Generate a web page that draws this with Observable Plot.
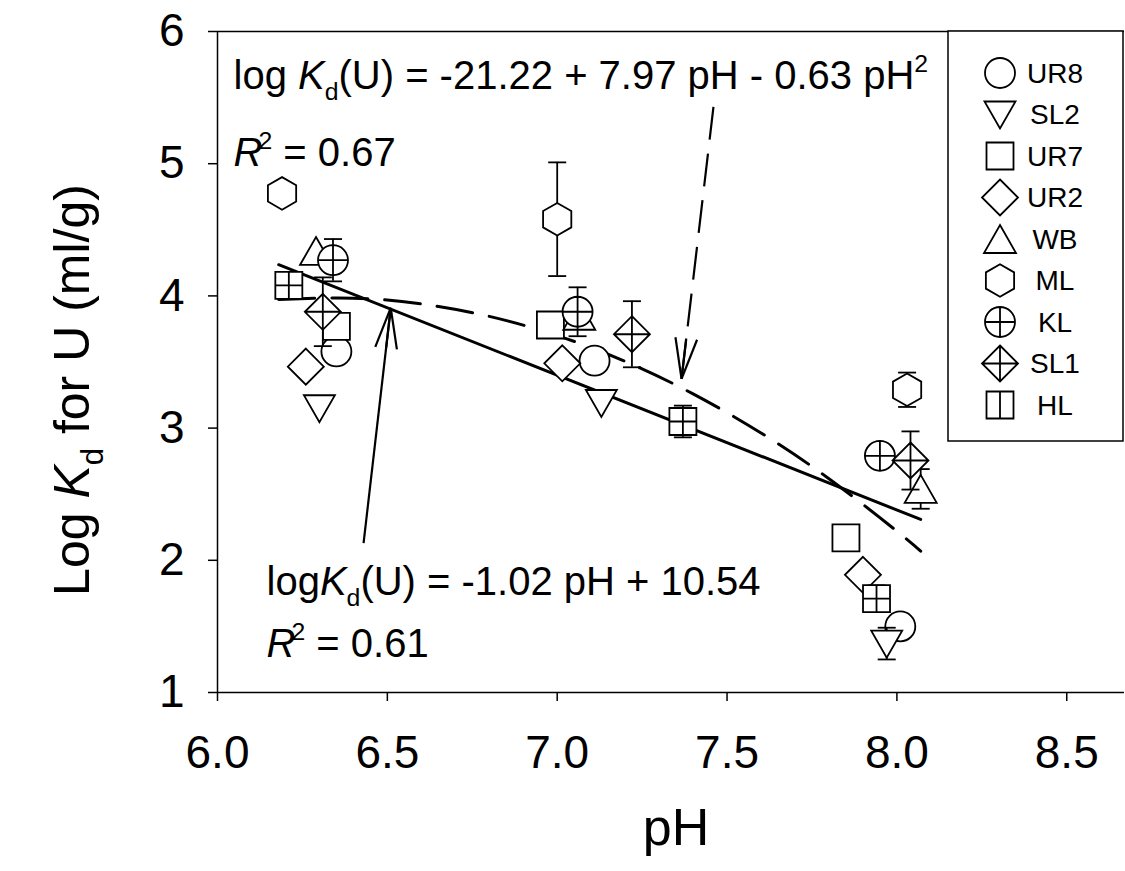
<!DOCTYPE html>
<html><head><meta charset="utf-8">
<script src="https://cdn.jsdelivr.net/npm/d3@7"></script>
<script src="https://cdn.jsdelivr.net/npm/@observablehq/plot@0.6"></script>
<style>
html,body{margin:0;padding:0;background:#fff;overflow:hidden;}
#chart{position:relative;width:1125px;height:871px;}
text{white-space:pre;}
</style></head><body><div id="chart"></div>
<script>
// ---------- data ----------
const sites = ["UR8","SL2","UR7","UR2","WB","ML","KL","SL1","HL"];
const siteSymbols = ["circle","triangleDown","square","diamond","triangleUp","hexagon","circlePlus","diamondPlus","squareGrid"];
const legendSymbols = ["circle","triangleDown","square","diamond","triangleUp","hexagon","circlePlus","diamondPlus","squareSplit"];
const sitePH = [
  [6.35, 7.11, 8.01],
  [6.30, 7.13, 7.97],
  [6.35, 6.98, 7.85],
  [6.26, 7.015, 7.90],
  [6.29, 7.065, 8.07],
  [6.19, 7.00, 8.03],
  [6.34, 7.06, 7.95],
  [6.31, 7.22, 8.04],
  [6.21, 7.37, 7.94]
];
const siteLogKd = [
  [3.58, 3.51, 1.50],
  [3.15, 3.19, 1.37],
  [3.77, 3.78, 2.17],
  [3.465, 3.49, 1.89],
  [4.34, 3.85, 2.54],
  [4.775, 4.58, 3.29],
  [4.27, 3.88, 2.79],
  [3.88, 3.71, 2.755],
  [4.08, 3.05, 1.71]
];
const siteErr = [
  [0, 0, 0],
  [0, 0, 0.12],
  [0, 0, 0],
  [0, 0, 0],
  [0, 0, 0.15],
  [0, 0.43, 0.13],
  [0.16, 0.185, 0],
  [0.26, 0.25, 0.22],
  [0, 0.12, 0.1]
];
// linear fit line (read end points)
const linPH = [6.18, 8.07];
const linLogKd = [4.236, 2.309];
// quadratic fit curve (read points)
const quadPH = [6.18, 6.4, 6.6, 6.8, 7.0, 7.2, 7.4, 7.6, 7.8, 8.0, 8.07];
const quadLogKd = [3.973, 3.983, 3.939, 3.845, 3.70, 3.505, 3.259, 2.963, 2.617, 2.22, 2.069];
// annotation arrows: tail -> tip
const arrowTail = [[6.43, 2.13], [7.46, 5.43]];
const arrowTip = [[6.51, 3.91], [7.366, 3.373]];
const arrowDashed = [false, true];
const xTicks = [6.0, 6.5, 7.0, 7.5, 8.0, 8.5];
const yTicks = [1, 2, 3, 4, 5, 6];
const xLabel = "pH";
const yLabel = "Log Kd for U (ml/g)";
const eqQuad = "log Kd(U) = -21.22 + 7.97 pH - 0.63 pH2";
const r2Quad = "R2 = 0.67";
const eqLin = "logKd(U) = -1.02 pH + 10.54";
const r2Lin = "R2 = 0.61";

// ---------- rows ----------
const rows = [];
sites.forEach((s, i) => sitePH[i].forEach((p, j) => rows.push({site: s, pH: p, v: siteLogKd[i][j], err: siteErr[i][j]})));
const linRows = linPH.map((p, i) => ({pH: p, v: linLogKd[i]}));
const quadRows = quadPH.map((p, i) => ({pH: p, v: quadLogKd[i]}));

// ---------- symbols ----------
function mk(f) { return {draw(c) { f(c); }}; }
function circ(c, r) { c.moveTo(r, 0); c.arc(0, 0, r, 0, 2 * Math.PI); }
function sq(c, h) { c.moveTo(-h, -h); c.lineTo(h, -h); c.lineTo(h, h); c.lineTo(-h, h); c.closePath(); }
function dia(c, h) { c.moveTo(0, -h); c.lineTo(h, 0); c.lineTo(0, h); c.lineTo(-h, 0); c.closePath(); }
function plus(c, h) { c.moveTo(-h, 0); c.lineTo(h, 0); c.moveTo(0, -h); c.lineTo(0, h); }
const SYM = {
  circle: mk(c => circ(c, 15)),
  triangleDown: mk(c => { c.moveTo(-15.5, -13); c.lineTo(15.5, -13); c.lineTo(0, 14); c.closePath(); }),
  triangleUp: mk(c => { c.moveTo(0, -14); c.lineTo(16, 14); c.lineTo(-16, 14); c.closePath(); }),
  square: mk(c => sq(c, 13.5)),
  diamond: mk(c => dia(c, 18)),
  hexagon: mk(c => { const R = 16.3; for (let k = 0; k < 6; k++) { const a = (-90 + 60 * k) * Math.PI / 180; k ? c.lineTo(R * Math.cos(a), R * Math.sin(a)) : c.moveTo(R * Math.cos(a), R * Math.sin(a)); } c.closePath(); }),
  circlePlus: mk(c => { circ(c, 15); plus(c, 15); }),
  diamondPlus: mk(c => { dia(c, 18); plus(c, 18); }),
  squareGrid: mk(c => { sq(c, 13.5); plus(c, 13.5); }),
  squareSplit: mk(c => { sq(c, 13.5); c.moveTo(0, -13.5); c.lineTo(0, 13.5); }),
  cap: mk(c => { c.moveTo(-9, 0); c.lineTo(9, 0); })
};

// ---------- layout ----------
const W = 1125, H = 871;
const base = {
  width: W, height: H, marginLeft: 217, marginTop: 31, marginBottom: 179, marginRight: 1,
  x: {domain: [6, 8.67]}, y: {domain: [1, 6]}
};
const probe = Plot.plot({...base, marks: [Plot.ruleY([1])]});
const sx = probe.scale("x"), sy = probe.scale("y");

// arrow shafts & heads (head built in pixel space, mapped back through the scales)
const shafts = [], heads = [];
const headLen = 42, headAng = 15 * Math.PI / 180;
arrowTail.forEach((t, i) => {
  const tip = arrowTip[i];
  shafts.push({x1: t[0], y1: t[1], x2: tip[0], y2: tip[1], dashed: arrowDashed[i]});
  const px = sx.apply(tip[0]), py = sy.apply(tip[1]);
  const a = Math.atan2(sy.apply(t[1]) - py, sx.apply(t[0]) - px);
  for (const s of [-1, 0, 1]) {
    const L = s === 0 ? headLen * Math.cos(headAng) : headLen;
    const ex = px + L * Math.cos(a + s * headAng), ey = py + L * Math.sin(a + s * headAng);
    heads.push({x1: tip[0], y1: tip[1], x2: sx.invert(ex), y2: sy.invert(ey)});
  }
});

const black = "#000";
const marks = [
  Plot.axisY({ticks: yTicks, tickSize: 9, tickPadding: 24, fontSize: 46, label: null, tickFormat: d3.format("d"), stroke: black, strokeWidth: 1.5}),
  Plot.axisX({ticks: xTicks, tickSize: 9, tickPadding: 34, fontSize: 46, label: null, tickFormat: d3.format(".1f"), stroke: black, strokeWidth: 1.5}),
  Plot.ruleY([1], {stroke: black, strokeWidth: 1.5}),
  Plot.ruleY([6], {stroke: black, strokeWidth: 1.5}),
  Plot.ruleX([6], {stroke: black, strokeWidth: 1.5}),
  Plot.line(linRows, {x: "pH", y: "v", stroke: black, strokeWidth: 3}),
  Plot.line(quadRows, {x: "pH", y: "v", curve: "natural", stroke: black, strokeWidth: 3, strokeDasharray: "36,17"}),
  Plot.link(shafts.filter(d => !d.dashed), {x1: "x1", y1: "y1", x2: "x2", y2: "y2", stroke: black, strokeWidth: 2.2}),
  Plot.link(shafts.filter(d => d.dashed), {x1: "x1", y1: "y1", x2: "x2", y2: "y2", stroke: black, strokeWidth: 2.2, strokeDasharray: "33,14"}),
  Plot.link(heads, {x1: "x1", y1: "y1", x2: "x2", y2: "y2", stroke: black, strokeWidth: 2.2})
];
sites.forEach((s, i) => {
  const r = rows.filter(d => d.site === s);
  const e = r.filter(d => d.err > 0);
  marks.push(Plot.ruleX(e, {x: "pH", y1: d => d.v - d.err, y2: d => d.v + d.err, stroke: black, strokeWidth: 1.8}));
  marks.push(Plot.dot(e.flatMap(d => [{pH: d.pH, y: d.v - d.err}, {pH: d.pH, y: d.v + d.err}]), {x: "pH", y: "y", symbol: SYM.cap, r: 3, fill: "none", stroke: black, strokeWidth: 1.8}));
  marks.push(Plot.dot(r, {x: "pH", y: "v", symbol: SYM[siteSymbols[i]], r: 15, fill: "white", stroke: black, strokeWidth: 1.8}));
});
const texts = [
  {t: eqQuad, dx: 16, dy: 57, size: 40, cls: "rt-0"},
  {t: r2Quad, dx: 16, dy: 134, size: 40, cls: "rt-1"},
  {t: eqLin, dx: 49, dy: 563, size: 40, cls: "rt-2"},
  {t: r2Lin, dx: 49, dy: 625, size: 40, cls: "rt-3"}
];
texts.forEach(d => marks.push(Plot.text([d.t], {frameAnchor: "top-left", dx: d.dx, dy: d.dy, text: d => d, textAnchor: "start", lineAnchor: "bottom", fontSize: d.size, fill: black, className: d.cls})));
marks.push(Plot.text([xLabel], {frameAnchor: "bottom", dx: 5, dy: 152, text: d => d, textAnchor: "middle", lineAnchor: "bottom", fontSize: 52, fill: black}));
marks.push(Plot.text([yLabel], {frameAnchor: "left", dx: -145, dy: 28, text: d => d, rotate: -90, textAnchor: "middle", lineAnchor: "middle", fontSize: 50, fill: black, className: "rt-4"}));

const svg = Plot.plot({...base, style: {fontFamily: "Arial, 'Liberation Sans', sans-serif", color: black, background: "white"}, marks});
document.getElementById("chart").appendChild(svg);

// ---------- rich text (italic K, subscripts, superscripts) ----------
const NS = "http://www.w3.org/2000/svg";
function rich(cls, segs, fs) {
  const el = svg.querySelector(`g.${cls} text`);
  if (!el) return;
  el.textContent = "";
  let shift = 0;
  for (const s of segs) {
    const ts = document.createElementNS(NS, "tspan");
    const target = s.sub ? 0.28 * fs : s.sup ? -0.42 * fs : 0;
    const dy = target - shift; shift = target;
    if (dy) ts.setAttribute("dy", dy);
    if (s.dx) ts.setAttribute("dx", s.dx);
    if (s.sub || s.sup) ts.setAttribute("font-size", 0.62 * fs);
    if (s.i) ts.setAttribute("font-style", "italic");
    ts.textContent = s.t;
    el.appendChild(ts);
  }
}
rich("rt-0", [{t: "log "}, {t: "K", i: 1}, {t: "d", sub: 1}, {t: "(U) = -21.22 + 7.97 pH - 0.63 pH"}, {t: "2", sup: 1}], 40);
rich("rt-1", [{t: "R", i: 1}, {t: "2", sup: 1, dx: -4}, {t: " = 0.67"}], 40);
rich("rt-2", [{t: "log"}, {t: "K", i: 1}, {t: "d", sub: 1}, {t: "(U) = -1.02 pH + 10.54"}], 40);
rich("rt-3", [{t: "R", i: 1}, {t: "2", sup: 1, dx: -4}, {t: " = 0.61"}], 40);
rich("rt-4", [{t: "Log "}, {t: "K", i: 1}, {t: "d", sub: 1}, {t: " for U (ml/g)"}], 50);

// ---------- legend ----------
const lg = d3.select(svg).append("g").attr("class", "legend");
lg.append("rect").attr("x", 948).attr("y", 31).attr("width", 175).attr("height", 410)
  .attr("fill", "white").attr("stroke", black).attr("stroke-width", 1.5);
sites.forEach((s, i) => {
  const y = 73 + i * 41.5;
  lg.append("path").attr("d", d3.symbol(SYM[legendSymbols[i]])()).attr("transform", `translate(1000,${y})`)
    .attr("fill", "white").attr("stroke", black).attr("stroke-width", 1.8);
  lg.append("text").attr("x", 1055).attr("y", y).attr("dy", "0.35em").attr("font-size", 28)
    .attr("font-family", "Arial, 'Liberation Sans', sans-serif").attr("fill", black).text(s);
});
</script></body></html>
